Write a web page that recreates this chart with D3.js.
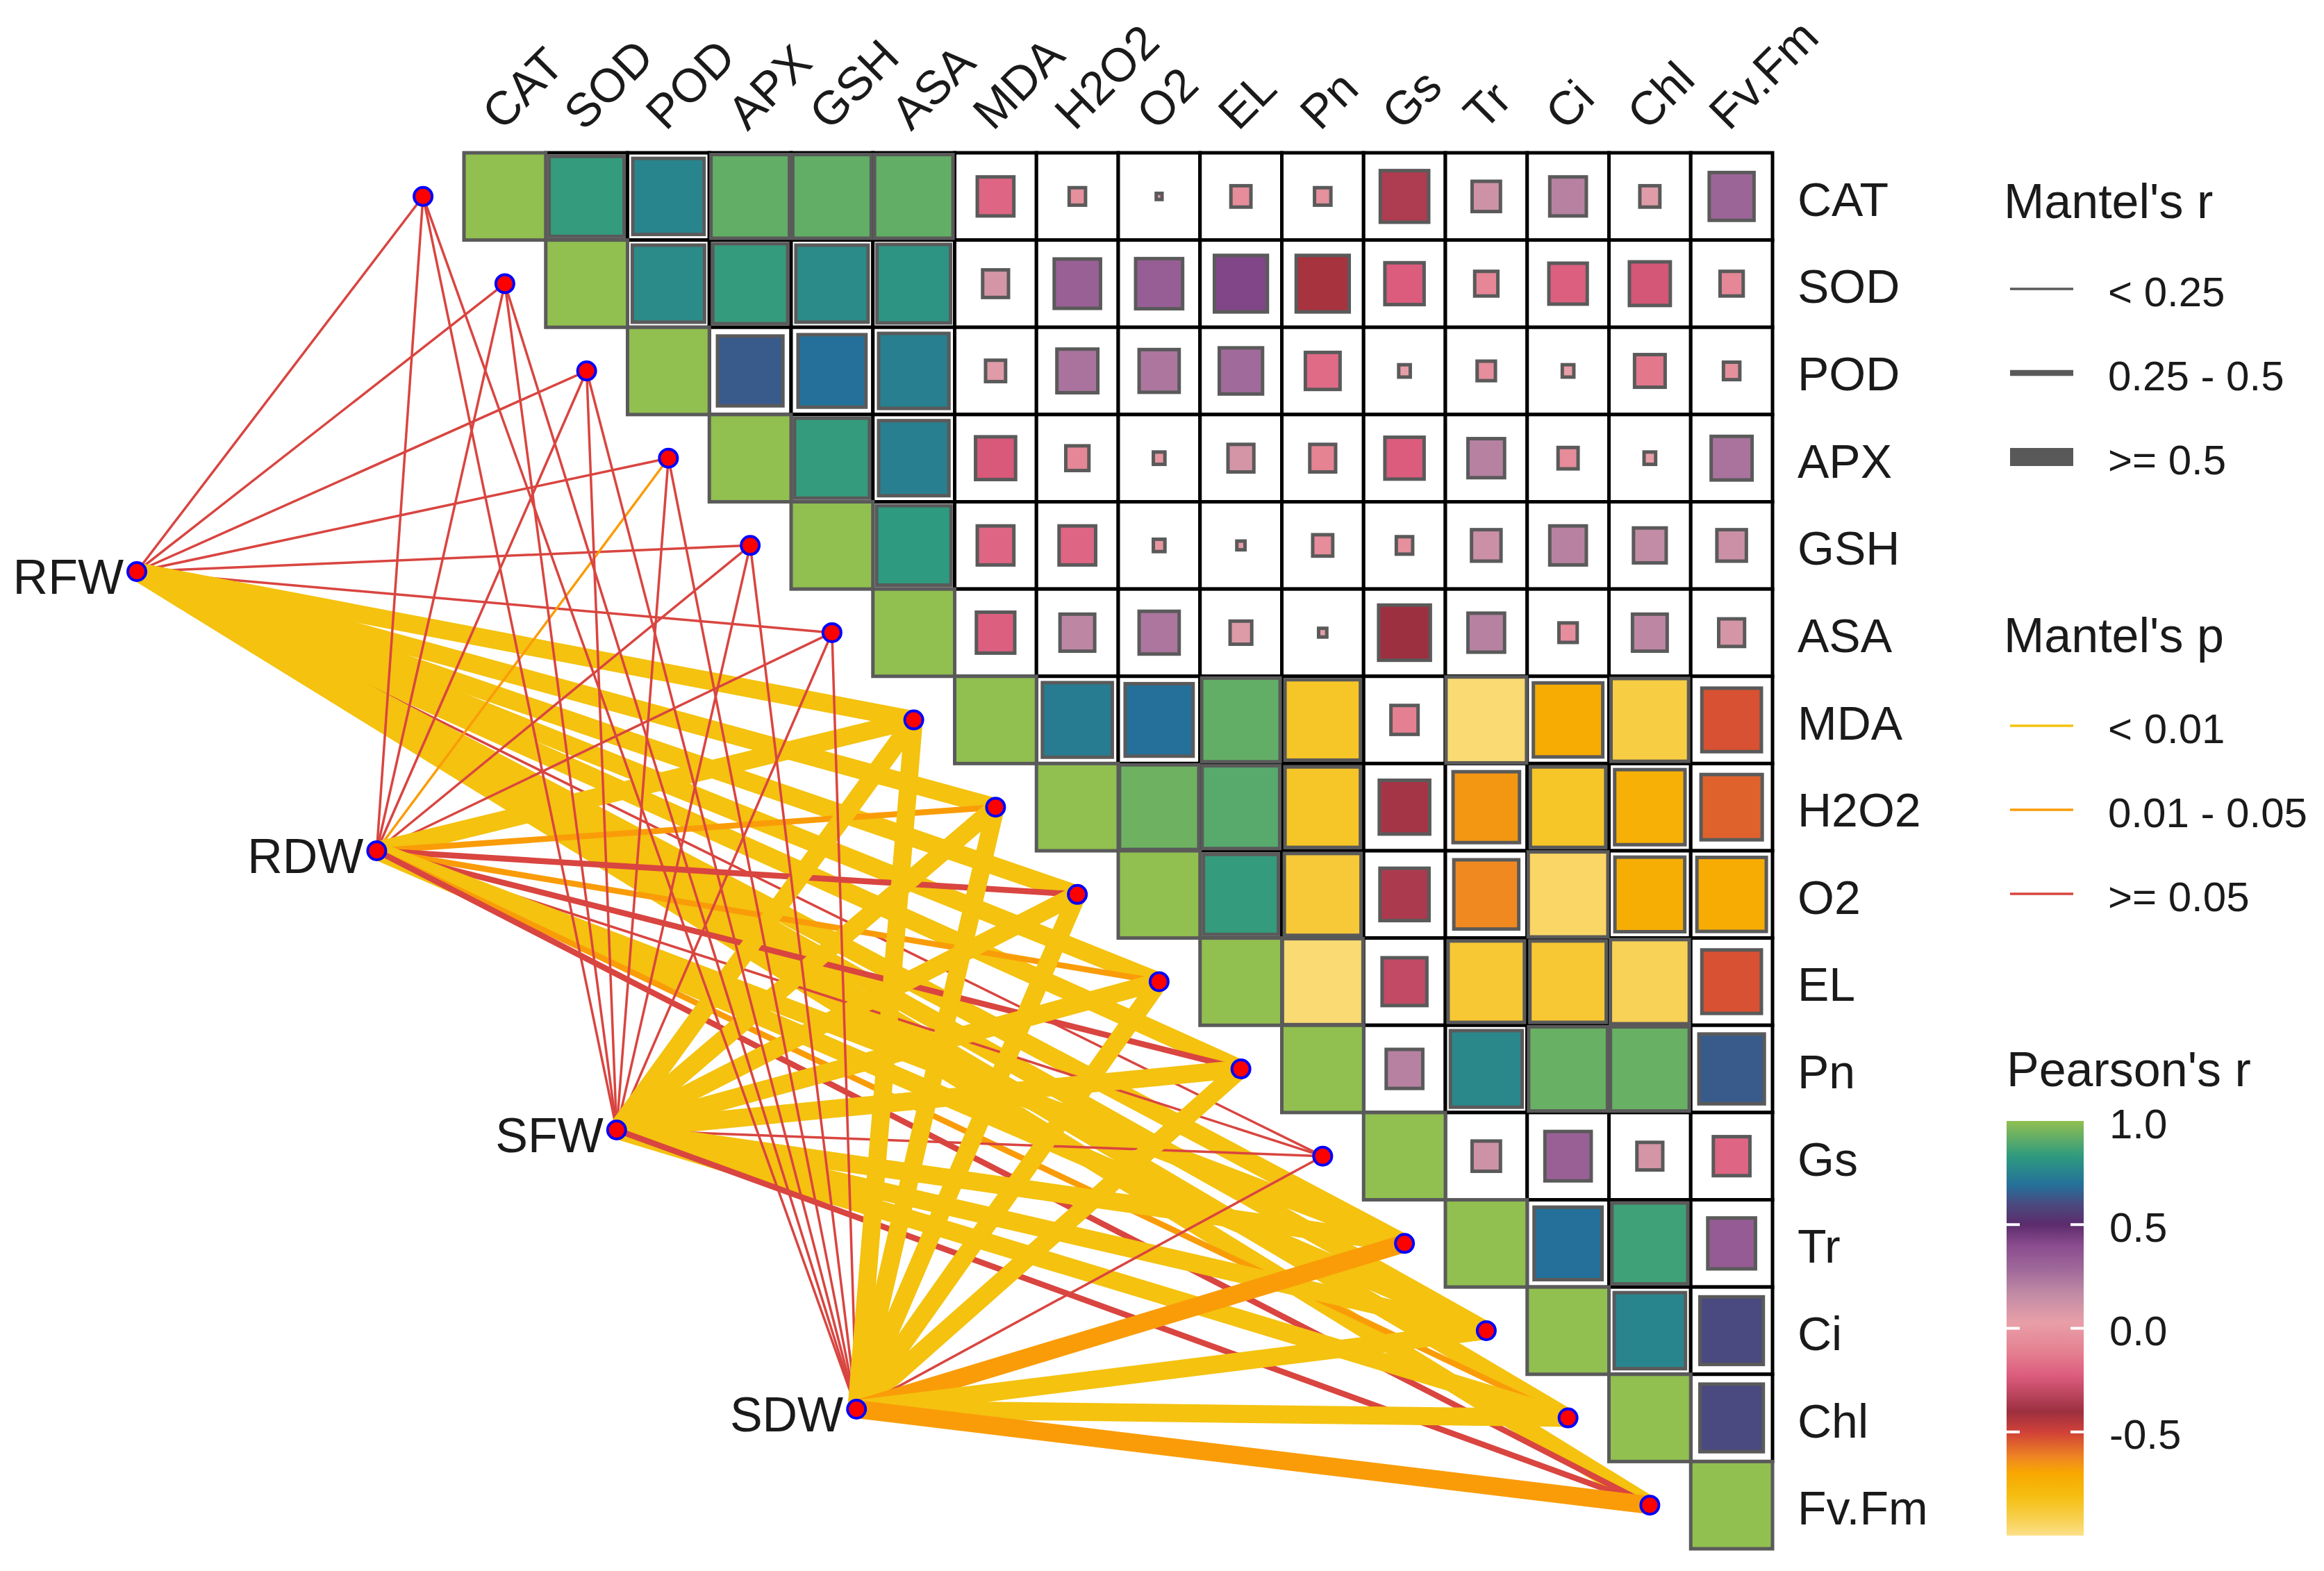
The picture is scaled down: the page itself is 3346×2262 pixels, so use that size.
<!DOCTYPE html>
<html>
<head lang="en">
    <meta charset="UTF-8">
    <title>Mantel network + Pearson heatmap</title>
    <script type="text/javascript" src="https://cdn.jsdelivr.net/npm/d3@7"></script>
    <style>
        body { margin: 0; background: #fff; }
        text { font-family: "Liberation Sans", Arial, sans-serif; fill: #1a1a1a; }
    </style>
</head>
<body>
<svg id="mainSvg"></svg>
<script>
    var w = 3346, h = 2262;

    // variables of the correlation matrix
    var vars = ["CAT", "SOD", "POD", "APX", "GSH", "ASA", "MDA", "H2O2", "O2", "EL", "Pn", "Gs", "Tr", "Ci", "Chl", "Fv.Fm"];

    // Pearson's r, upper triangle, each row starts at the diagonal
    var rCAT  = [1, 0.84, 0.76, 0.92, 0.92, 0.92, -0.2, -0.04, 0.005, -0.06, -0.04, -0.35, 0.12, 0.2, 0.06, 0.3];
    var rSOD  = [1, 0.78, 0.84, 0.78, 0.81, 0.1, 0.32, 0.33, 0.42, -0.42, -0.23, -0.08, -0.22, -0.25, -0.08];
    var rPOD  = [1, 0.64, 0.69, 0.74, 0.06, 0.25, 0.24, 0.28, -0.18, 0.02, -0.05, 0.02, -0.14, -0.04];
    var rAPX  = [1, 0.84, 0.74, -0.24, -0.08, -0.02, 0.1, -0.1, -0.23, 0.2, -0.06, 0.02, 0.25];
    var rGSH  = [1, 0.83, -0.2, -0.2, -0.02, 0.01, -0.06, -0.04, 0.13, 0.2, 0.16, 0.13];
    var rASA  = [1, -0.22, 0.18, 0.24, 0.07, 0.01, -0.4, 0.2, -0.05, 0.18, 0.1];
    var rMDA  = [1, 0.73, 0.69, 0.92, -0.85, -0.11, -0.97, -0.72, -0.9, -0.53];
    var rH2O2 = [1, 0.94, 0.9, -0.85, -0.38, -0.66, -0.85, -0.74, -0.56];
    var rO2   = [1, 0.84, -0.88, -0.36, -0.63, -0.95, -0.73, -0.72];
    var rEL   = [1, -0.97, -0.3, -0.87, -0.87, -0.93, -0.53];
    var rPn   = [1, 0.2, 0.77, 0.93, 0.93, 0.64];
    var rGs   = [1, 0.12, 0.32, 0.1, -0.2];
    var rTr   = [1, 0.69, 0.86, 0.34];
    var rCi   = [1, 0.76, 0.6];
    var rChl  = [1, 0.6];
    var rFvFm = [1];
    var pearsonRows = [rCAT, rSOD, rPOD, rAPX, rGSH, rASA, rMDA, rH2O2, rO2, rEL, rPn, rGs, rTr, rCi, rChl, rFvFm];

    // Mantel test of each growth trait against each variable
    var envs = ["RFW", "RDW", "SFW", "SDW"];
    var mantelR_RFW = [0.12, 0.15, 0.14, 0.16, 0.17, 0.18, 0.62, 0.64, 0.66, 0.63, 0.6, 0.14, 0.58, 0.61, 0.59, 0.57];
    var mantelP_RFW = [0.35, 0.28, 0.21, 0.18, 0.12, 0.09, 0.001, 0.001, 0.001, 0.001, 0.002, 0.22, 0.001, 0.001, 0.002, 0.004];
    var mantelR_RDW = [0.1, 0.12, 0.14, 0.18, 0.15, 0.16, 0.56, 0.38, 0.41, 0.36, 0.33, 0.2, 0.53, 0.55, 0.31, 0.4];
    var mantelP_RDW = [0.4, 0.3, 0.25, 0.03, 0.15, 0.11, 0.003, 0.02, 0.07, 0.03, 0.08, 0.3, 0.006, 0.004, 0.04, 0.06];
    var mantelR_SFW = [0.08, 0.1, 0.12, 0.13, 0.11, 0.14, 0.63, 0.65, 0.66, 0.64, 0.61, 0.15, 0.6, 0.62, 0.58, 0.37];
    var mantelP_SFW = [0.6, 0.5, 0.4, 0.3, 0.35, 0.25, 0.001, 0.001, 0.001, 0.001, 0.002, 0.18, 0.001, 0.001, 0.003, 0.08];
    var mantelR_SDW = [0.09, 0.11, 0.1, 0.13, 0.12, 0.15, 0.6, 0.62, 0.63, 0.61, 0.58, 0.13, 0.52, 0.6, 0.62, 0.54];
    var mantelP_SDW = [0.5, 0.45, 0.38, 0.3, 0.28, 0.2, 0.001, 0.001, 0.002, 0.001, 0.003, 0.25, 0.02, 0.002, 0.001, 0.015];
    var mantelR = [mantelR_RFW, mantelR_RDW, mantelR_SFW, mantelR_SDW];
    var mantelP = [mantelP_RFW, mantelP_RDW, mantelP_SFW, mantelP_SDW];

    // legend labels
    var rClassLabels = ["< 0.25", "0.25 - 0.5", ">= 0.5"];
    var pClassLabels = ["< 0.01", "0.01 - 0.05", ">= 0.05"];
    var cbTicks = [1, 0.5, 0, -0.5];

    var svg = d3.select("#mainSvg").attr("width", w).attr("height", h);

    // grid scales in cell units
    var n = vars.length;
    var x = d3.scaleLinear().domain([0, n]).range([668, 2552]);
    var y = d3.scaleLinear().domain([0, n]).range([220, 2230]);
    var cw = x(1) - x(0), ch = y(1) - y(0);

    // Pearson colour scale
    var color = d3.scaleLinear()
            .domain([-1, -0.92, -0.81, -0.7, -0.63, -0.5, -0.4, -0.23, -0.12, 0.03, 0.17, 0.28, 0.4, 0.5, 0.6, 0.69, 0.83, 1])
            .range(["#fae088", "#f8d050", "#f5be10", "#f8a800", "#f08a20", "#d04038", "#9c3040", "#dc5c7e", "#e47e90",
                "#e8a0a8", "#c08aa5", "#a06a9a", "#8a4c8e", "#5c2c6c", "#4a4a80", "#24709a", "#2e9a7f", "#91bf50"])
            .interpolate(d3.interpolateRgb);

    var widthScale = d3.scaleThreshold().domain([0.25, 0.5]).range([3.5, 8.5, 26]);
    var edgeColor = d3.scaleThreshold().domain([0.01, 0.05]).range(["#f4c20f", "#fa9c08", "#d94540"]);

    var cells = [];
    pearsonRows.forEach(function (row, i) {
        row.forEach(function (r, k) {
            cells.push({i: i, j: i + k, r: r});
        });
    });

    // ---- Mantel edges ----
    var envX = d3.scaleLinear().domain([0, 3]).range([-4.0, 4.8]);
    var envY = d3.scaleLinear().domain([0, 3]).range([4.8, 14.4]);
    var envNodes = envs.map(function (e, k) {
        return {name: e, x: x(envX(k)), y: y(envY(k))};
    });
    var varNodes = vars.map(function (v, i) {
        return {name: v, x: x(i - 0.5), y: y(i + 0.5)};
    });
    var edges = [];
    envs.forEach(function (e, k) {
        vars.forEach(function (v, i) {
            edges.push({s: envNodes[k], t: varNodes[i], r: mantelR[k][i], p: mantelP[k][i]});
        });
    });

    svg.append("g").selectAll("line")
            .data(edges)
            .enter()
            .append("line")
            .attr("x1", function (d) { return d.s.x; })
            .attr("y1", function (d) { return d.s.y; })
            .attr("x2", function (d) { return d.t.x; })
            .attr("y2", function (d) { return d.t.y; })
            .attr("stroke", function (d) { return edgeColor(d.p); })
            .attr("stroke-width", function (d) { return widthScale(d.r); });

    // ---- heatmap ----
    var gGrid = svg.append("g");
    gGrid.selectAll("rect")
            .data(cells.filter(function (d) { return d.j > d.i; }))
            .enter()
            .append("rect")
            .attr("x", function (d) { return x(d.j); })
            .attr("y", function (d) { return y(d.i); })
            .attr("width", cw)
            .attr("height", ch)
            .attr("fill", "white")
            .attr("stroke", "black")
            .attr("stroke-width", 5);

    var gSq = svg.append("g");
    gSq.selectAll("rect")
            .data(cells)
            .enter()
            .append("rect")
            .attr("x", function (d) { return x(d.j + 0.5) - cw * Math.sqrt(Math.abs(d.r)) / 2; })
            .attr("y", function (d) { return y(d.i + 0.5) - ch * Math.sqrt(Math.abs(d.r)) / 2; })
            .attr("width", function (d) { return cw * Math.sqrt(Math.abs(d.r)); })
            .attr("height", function (d) { return ch * Math.sqrt(Math.abs(d.r)); })
            .attr("fill", function (d) { return color(d.r); })
            .attr("stroke", "#5a5a5a")
            .attr("stroke-width", 5);

    // column labels
    svg.append("g").selectAll("text")
            .data(vars)
            .enter()
            .append("text")
            .attr("transform", function (d, i) {
                return "translate(" + (x(i + 0.5) - 4) + ",190) rotate(-45)";
            })
            .attr("font-size", 68)
            .text(function (d) { return d; });

    // row labels
    svg.append("g").selectAll("text")
            .data(vars)
            .enter()
            .append("text")
            .attr("x", x(n) + 36)
            .attr("y", function (d, i) { return y(i + 0.5) + 4; })
            .attr("dominant-baseline", "central")
            .attr("font-size", 68)
            .text(function (d) { return d; });

    // nodes
    svg.append("g").selectAll("circle")
            .data(varNodes.concat(envNodes))
            .enter()
            .append("circle")
            .attr("cx", function (d) { return d.x; })
            .attr("cy", function (d) { return d.y; })
            .attr("r", 13)
            .attr("fill", "#ff0000")
            .attr("stroke", "#0000ff")
            .attr("stroke-width", 4);

    svg.append("g").selectAll("text")
            .data(envNodes)
            .enter()
            .append("text")
            .attr("x", function (d) { return d.x - 19; })
            .attr("y", function (d) { return d.y + 8; })
            .attr("text-anchor", "end")
            .attr("dominant-baseline", "central")
            .attr("font-size", 70)
            .text(function (d) { return d.name; });

    // ---- legends ----
    var lg = svg.append("g");
    var lx = 2885;
    lg.append("text").attr("x", lx).attr("y", 290).attr("dominant-baseline", "central")
            .attr("font-size", 70).text("Mantel's r");
    var rKeyVals = [0.1, 0.35, 0.7];
    rKeyVals.forEach(function (v, k) {
        var yy = 416 + k * 121;
        lg.append("line").attr("x1", lx + 9).attr("x2", lx + 100).attr("y1", yy).attr("y2", yy)
                .attr("stroke", "#595959").attr("stroke-width", widthScale(v));
        lg.append("text").attr("x", 3035).attr("y", yy + 4).attr("dominant-baseline", "central")
                .attr("font-size", 60).text(rClassLabels[k]);
    });

    lg.append("text").attr("x", lx).attr("y", 915).attr("dominant-baseline", "central")
            .attr("font-size", 70).text("Mantel's p");
    var pKeyVals = [0.001, 0.03, 0.2];
    pKeyVals.forEach(function (v, k) {
        var yy = 1045 + k * 121;
        lg.append("line").attr("x1", lx + 9).attr("x2", lx + 100).attr("y1", yy).attr("y2", yy)
                .attr("stroke", edgeColor(v)).attr("stroke-width", 3.5);
        lg.append("text").attr("x", 3035).attr("y", yy + 4).attr("dominant-baseline", "central")
                .attr("font-size", 60).text(pClassLabels[k]);
    });

    lg.append("text").attr("x", lx + 4).attr("y", 1540).attr("dominant-baseline", "central")
            .attr("font-size", 70).text("Pearson's r");

    var cbY = d3.scaleLinear().domain([1, -1]).range([1614, 2211]);
    var grad = svg.append("defs").append("linearGradient").attr("id", "cbGrad")
            .attr("x1", 0).attr("y1", 0).attr("x2", 0).attr("y2", 1);
    d3.range(0, 101).forEach(function (k) {
        var v = 1 - k / 50;
        grad.append("stop").attr("offset", (k) + "%").attr("stop-color", color(v));
    });
    lg.append("rect").attr("x", 2889).attr("y", cbY(1)).attr("width", 111)
            .attr("height", cbY(-1) - cbY(1)).attr("fill", "url(#cbGrad)");
    cbTicks.forEach(function (t) {
        if (t !== 1) {
            lg.append("line").attr("x1", 2889).attr("x2", 2908).attr("y1", cbY(t)).attr("y2", cbY(t))
                    .attr("stroke", "white").attr("stroke-width", 4);
            lg.append("line").attr("x1", 2981).attr("x2", 3000).attr("y1", cbY(t)).attr("y2", cbY(t))
                    .attr("stroke", "white").attr("stroke-width", 4);
        }
        lg.append("text").attr("x", 3037).attr("y", cbY(t) + 4).attr("dominant-baseline", "central")
                .attr("font-size", 60).text(d3.format(".1f")(t).replace("\u2212", "-"));
    });
</script>
</body>
</html>
